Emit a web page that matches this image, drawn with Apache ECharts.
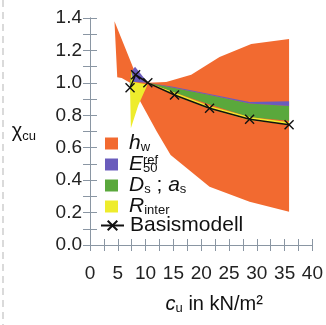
<!DOCTYPE html>
<html>
<head>
    <meta charset="utf-8">
    <title>chi_cu</title>
    <script src="https://cdn.jsdelivr.net/npm/echarts@6/dist/echarts.min.js"></script>
    <style>
        html, body { margin: 0; padding: 0; background: #fff; }
        #main { width: 326px; height: 325px; }
    </style>
</head>
<body>
    <div id="main"></div>
    <script>
        // Basismodell
        var cuBasis = [7.2, 8.2, 10.4, 15.2, 21.5, 28.7, 35.8];
        var chiBasis = [0.97, 1.05, 1.0, 0.925, 0.843, 0.775, 0.742];

        // Streubereiche (Polygone, [cu, chi])
        var hwOutline = [[4.4, 1.38], [7.8, 1.09], [10.4, 1.0], [13.7, 1.005], [18.2, 1.05], [23.3, 1.16],
            [29.0, 1.24], [35.8, 1.27], [35.8, 0.205], [28.7, 0.267], [21.5, 0.36], [14.5, 0.555],
            [12.0, 0.70], [7.2, 1.0], [5.7, 1.03], [4.9, 1.035]];
        var dsLeft = [[7.15, 0.99], [7.45, 1.075], [7.6, 1.07], [7.45, 0.9]];
        var dsRight = [[10.4, 1.0], [15.2, 0.968], [21.5, 0.925], [28.7, 0.872], [35.8, 0.857],
            [35.8, 0.767], [28.7, 0.788], [21.5, 0.866], [15.2, 0.94]];
        var e50Left = [[7.4, 0.98], [7.55, 1.075], [8.1, 1.1], [10.4, 1.0], [7.8, 1.005]];
        var e50Right = [[10.4, 1.0], [15.2, 0.974], [21.5, 0.932], [28.7, 0.882], [35.8, 0.886],
            [35.8, 0.857], [28.7, 0.872], [21.5, 0.925], [15.2, 0.968]];
        var rLeft = [[7.47, 1.07], [7.8, 1.005], [10.35, 0.99], [8.67, 0.86], [7.35, 0.72], [7.2, 0.97]];
        var rRight = [[10.4, 1.0], [15.2, 0.94], [21.5, 0.858], [28.7, 0.79], [35.8, 0.757],
            [35.8, 0.74], [28.7, 0.77], [21.5, 0.838], [15.2, 0.92]];

        var legendLabels = {
            hw: '{i|h}{sb|w}',
            E50: '{i|E}{sp|ref}{sb|50}',
            Ds: '{i|D}{sb|s}{n| ; }{i|a}{sb|s}',
            Rinter: '{i|R}{sb|inter}'
        };

        var font = 'Arial, "Liberation Sans", sans-serif';
        var axisColor = '#8a96a3';

        function polySeries(name, color, polys, z) {
            var data = [];
            polys.forEach(function (pts) {
                pts.forEach(function (p) { data.push([p[0], p[1]]); });
            });
            return {
                type: 'custom',
                name: name,
                z: z,
                silent: true,
                itemStyle: { color: color },
                data: data,
                encode: { x: 0, y: 1 },
                renderItem: function (params, api) {
                    if (params.dataIndex !== 0) return;
                    return {
                        type: 'group',
                        children: polys.map(function (pts) {
                            return {
                                type: 'polygon',
                                shape: { points: pts.map(function (p) { return api.coord(p); }) },
                                style: { fill: color }
                            };
                        })
                    };
                }
            };
        }

        var rich = {
            i: { fontFamily: font, fontSize: 21, fontStyle: 'italic', color: '#111', lineHeight: 20.5 },
            n: { fontFamily: font, fontSize: 21, color: '#111', lineHeight: 20.5 },
            sb: { fontFamily: font, fontSize: 13, color: '#111', verticalAlign: 'bottom', lineHeight: 10 },
            sp: { fontFamily: font, fontSize: 13, color: '#111', verticalAlign: 'top', lineHeight: 12, width: 0 }
        };

        var chart = echarts.init(document.getElementById('main'));

        var xAxisBase = {
            type: 'value', min: 0, max: 40, interval: 2.5,
            axisLine: { show: true, lineStyle: { color: axisColor, width: 1 } },
            axisTick: { show: true, inside: true, length: 6, lineStyle: { color: axisColor } },
            splitLine: { show: false }
        };
        var yAxisBase = {
            type: 'value', min: 0, max: 1.4, interval: 0.1,
            axisLine: { show: true, lineStyle: { color: axisColor, width: 1 } },
            axisTick: { show: true, inside: true, length: 7, lineStyle: { color: axisColor } },
            splitLine: { show: false }
        };

        var option = {
            animation: false,
            backgroundColor: '#fff',
            grid: { left: 90, top: 18, right: 13, bottom: 80 },
            xAxis: [
                Object.assign({}, xAxisBase, {
                    position: 'bottom',
                    axisLabel: {
                        margin: 19, color: '#222', fontFamily: font, fontSize: 19,
                        showMinLabel: true, showMaxLabel: true, hideOverlap: false,
                        formatter: function (v) {
                            return Math.abs(v / 5 - Math.round(v / 5)) < 1e-6 ? String(Math.round(v)) : '';
                        }
                    },
                    name: '{i|c}{sb|u}{n| in kN/m²}',
                    nameLocation: 'middle',
                    nameGap: 48,
                    nameTextStyle: {
                        padding: [0, 0, 0, 26],
                        rich: {
                            i: { fontFamily: font, fontSize: 20, fontStyle: 'italic', color: '#111', lineHeight: 22 },
                            n: { fontFamily: font, fontSize: 20, color: '#111', lineHeight: 22 },
                            sb: { fontFamily: font, fontSize: 13, color: '#111', verticalAlign: 'bottom', lineHeight: 11 }
                        }
                    }
                }),
                Object.assign({}, xAxisBase, { position: 'top', axisLabel: { show: false } })
            ],
            yAxis: [
                Object.assign({}, yAxisBase, {
                    position: 'left',
                    axisLabel: {
                        margin: 8, color: '#222', fontFamily: font, fontSize: 19,
                        showMinLabel: true, showMaxLabel: true, hideOverlap: false,
                        formatter: function (v) {
                            return Math.round(v * 10) % 2 === 0 ? v.toFixed(1) : '';
                        }
                    },
                    name: '{n|χ}{sb|cu}',
                    nameLocation: 'middle',
                    nameRotate: 0,
                    nameGap: 54,
                    nameTextStyle: {
                        rich: {
                            n: { fontFamily: font, fontSize: 20, color: '#111', lineHeight: 22 },
                            sb: { fontFamily: font, fontSize: 13, color: '#111', verticalAlign: 'bottom', lineHeight: 11 }
                        }
                    }
                }),
                Object.assign({}, yAxisBase, { position: 'right', axisLabel: { show: false } })
            ],
            legend: [
                {
                    data: ['hw', 'E50', 'Ds', 'Rinter'],
                    orient: 'vertical',
                    left: 105, top: 133,
                    padding: 0,
                    itemGap: 0,
                    itemWidth: 13, itemHeight: 12,
                    icon: 'rect',
                    selectedMode: false,
                    formatter: function (name) { return legendLabels[name]; },
                    textStyle: { padding: [0, 0, 0, 6], rich: rich }
                },
                {
                    data: ['Basismodell'],
                    orient: 'vertical',
                    left: 100, top: 215,
                    padding: 0,
                    itemWidth: 23, itemHeight: 12,
                    selectedMode: false,
                    textStyle: { fontFamily: font, fontSize: 21, color: '#111', padding: [0, 0, 0, 1], lineHeight: 21 }
                }
            ],
            graphic: [{
                type: 'line',
                shape: { x1: 3, y1: 0, x2: 3, y2: 325 },
                style: { stroke: '#b5b5b5', lineWidth: 1, lineDash: [7, 5] }
            }],
            series: [
                polySeries('hw', '#f26a30', [hwOutline], 1),
                polySeries('Ds', '#5aa83c', [dsLeft, dsRight], 2),
                polySeries('E50', '#6a5cbc', [e50Left, e50Right], 3),
                polySeries('Rinter', '#eeec2c', [rLeft, rRight], 4),
                {
                    type: 'line',
                    name: 'Basismodell',
                    z: 5,
                    data: cuBasis.map(function (c, k) { return [c, chiBasis[k]]; }),
                    symbol: 'path://M0,0L10,10M10,0L0,10',
                    symbolSize: 9,
                    showAllSymbol: true,
                    itemStyle: { color: 'rgba(0,0,0,0)', borderColor: '#111', borderWidth: 1.4 },
                    lineStyle: { color: '#111', width: 1.5 }
                }
            ]
        };

        chart.setOption(option);
        window.addEventListener('resize', function () { chart.resize(); });
    </script>
</body>
</html>
